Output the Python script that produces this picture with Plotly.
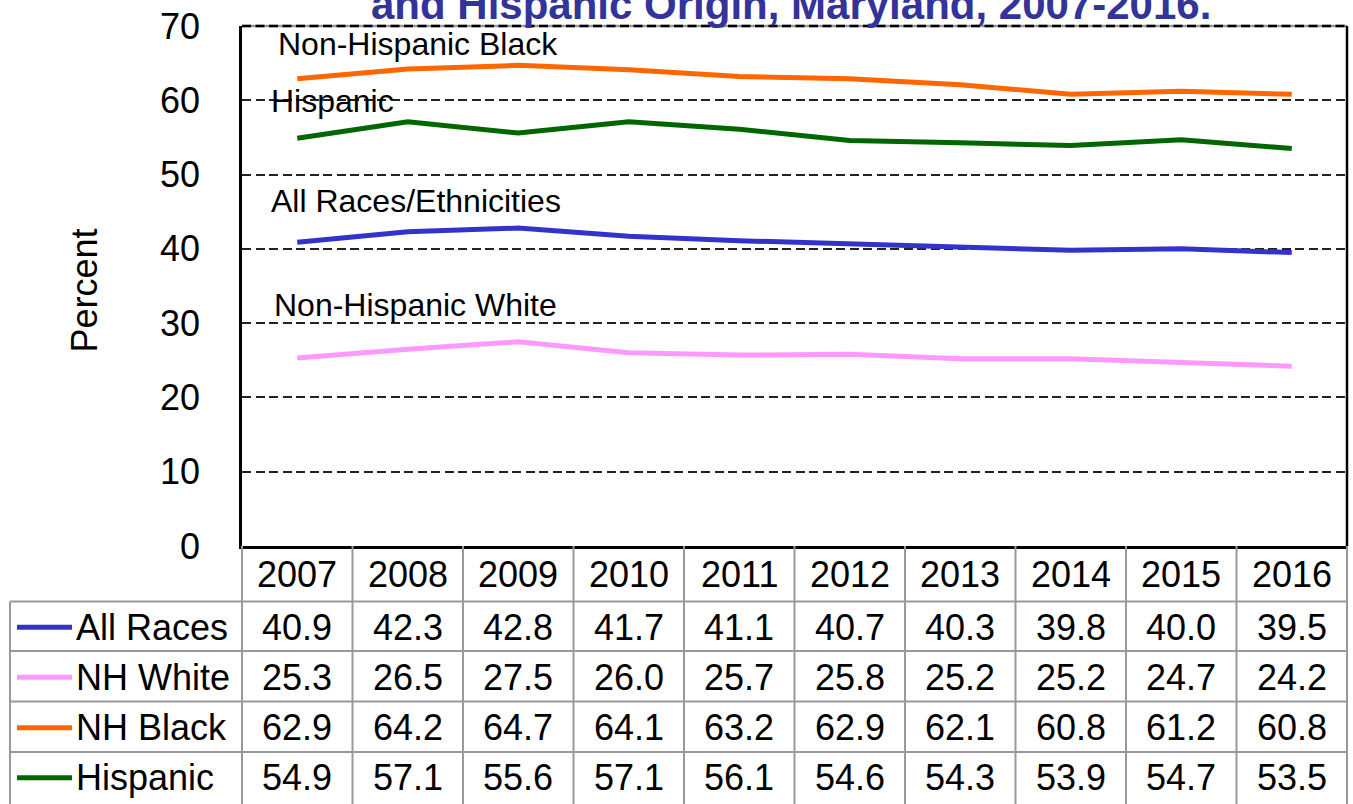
import plotly.graph_objects as go

years = [2007, 2008, 2009, 2010, 2011, 2012, 2013, 2014, 2015, 2016]
series_names = ["All Races", "NH White", "NH Black", "Hispanic"]
all_races = [40.9, 42.3, 42.8, 41.7, 41.1, 40.7, 40.3, 39.8, 40.0, 39.5]
nh_white = [25.3, 26.5, 27.5, 26.0, 25.7, 25.8, 25.2, 25.2, 24.7, 24.2]
nh_black = [62.9, 64.2, 64.7, 64.1, 63.2, 62.9, 62.1, 60.8, 61.2, 60.8]
hispanic = [54.9, 57.1, 55.6, 57.1, 56.1, 54.6, 54.3, 53.9, 54.7, 53.5]
line_labels = ["All Races/Ethnicities", "Non-Hispanic White", "Non-Hispanic Black", "Hispanic"]
label_values = [46.4, 32.4, 67.6, 59.9]
title_text = "and Hispanic Origin, Maryland, 2007-2016."

colors = ["#3333CC", "#FF99FF", "#FF6600", "#006600"]
series = [all_races, nh_white, nh_black, hispanic]
label_x = [-0.26, -0.23, -0.19, -0.26]

W, H = 1353, 804
L, R, T, B = 242, 1347, 21, 546
PW, PH = R - L, B - T
FONT = "Arial, Liberation Sans, sans-serif"
DASH = "9px,4.5px"


def px_x(px):
    return (px - L) / PW


def px_y(py):
    return (B - py) / PH


fig = go.Figure()
xs = list(range(len(years)))
for name, vals, col in zip(series_names, series, colors):
    fig.add_trace(go.Scatter(x=xs, y=vals, mode="lines", name=name,
                             line=dict(color=col, width=5), showlegend=False))

shapes = []
annotations = []

# line labels
for txt, yv, lx in zip(line_labels, label_values, label_x):
    annotations.append(dict(x=lx, y=yv, xref="x", yref="y", text=txt, showarrow=False,
                            xanchor="left", yanchor="middle",
                            font=dict(family=FONT, size=32, color="black")))

grid = "#999999"
# top frame: gray solid under black dashed
shapes.append(dict(type="line", xref="paper", yref="paper", x0=0, x1=1, y0=1, y1=1,
                   line=dict(color=grid, width=2.5), layer="below"))
shapes.append(dict(type="line", xref="paper", yref="paper", x0=0, x1=1, y0=1, y1=1,
                   line=dict(color="black", width=2.5, dash=DASH)))

# table geometry
row_edges = [546, 602, 652, 703, 754, 804]
n = len(years)
for i in range(n + 1):
    shapes.append(dict(type="line", xref="paper", yref="paper", x0=i / n, x1=i / n,
                       y0=px_y(row_edges[0]), y1=px_y(row_edges[-1] + 5),
                       line=dict(color=grid, width=2)))
label_left = 10
shapes.append(dict(type="line", xref="paper", yref="paper", x0=px_x(label_left), x1=px_x(label_left),
                   y0=px_y(row_edges[1]), y1=px_y(row_edges[-1] + 5), line=dict(color=grid, width=2)))
for ry in row_edges[1:-1]:
    shapes.append(dict(type="line", xref="paper", yref="paper", x0=px_x(label_left), x1=1,
                       y0=px_y(ry), y1=px_y(ry), line=dict(color=grid, width=2)))
# right border solid black over plot
shapes.append(dict(type="line", xref="paper", yref="paper", x0=1, x1=1, y0=0, y1=1,
                   line=dict(color="black", width=2.5)))

# header years
hc = (row_edges[0] + row_edges[1]) / 2 + 1
for i, yr in enumerate(years):
    annotations.append(dict(x=(i + 0.5) / n, y=px_y(hc), xref="paper", yref="paper", text=str(yr),
                            showarrow=False, xanchor="center", yanchor="middle",
                            font=dict(family=FONT, size=36, color="black")))
# data rows
for r, (name, vals, col) in enumerate(zip(series_names, series, colors)):
    cy = (row_edges[r + 1] + row_edges[r + 2]) / 2 + 1
    shapes.append(dict(type="line", xref="paper", yref="paper", x0=px_x(17), x1=px_x(72),
                       y0=px_y(cy), y1=px_y(cy), line=dict(color=col, width=5)))
    annotations.append(dict(x=px_x(74), y=px_y(cy), xref="paper", yref="paper", text=name,
                            showarrow=False, xanchor="left", yanchor="middle",
                            font=dict(family=FONT, size=36, color="black")))
    for i, v in enumerate(vals):
        annotations.append(dict(x=(i + 0.5) / n, y=px_y(cy), xref="paper", yref="paper",
                                text=f"{v:.1f}", showarrow=False, xanchor="center", yanchor="middle",
                                font=dict(family=FONT, size=36, color="black")))

# y-axis title
annotations.append(dict(x=px_x(84), y=px_y(288), xref="paper", yref="paper", text="Percent",
                        showarrow=False, textangle=-90, xanchor="center", yanchor="middle",
                        font=dict(family=FONT, size=36, color="black")))
# title (partially cut off at the top, as in the reference)
annotations.append(dict(x=px_x(791), y=px_y(-1), xref="paper", yref="paper", text="<b>" + title_text + "</b>",
                        showarrow=False, xanchor="center", yanchor="middle",
                        font=dict(family=FONT, size=42, color="#333399")))

fig.update_layout(
    width=W, height=H,
    margin=dict(l=L, r=W - R, t=T, b=H - B, pad=0),
    paper_bgcolor="white", plot_bgcolor="white",
    shapes=shapes, annotations=annotations,
    xaxis=dict(range=[-0.5, n - 0.5], showticklabels=False, showgrid=False, zeroline=False,
               showline=True, linecolor="black", linewidth=2.5, ticks=""),
    yaxis=dict(range=[0, 70], dtick=10, showgrid=True, gridcolor="#222222", gridwidth=1.5,
               griddash=DASH, zeroline=False, showline=True, linecolor="black", linewidth=2.5,
               ticks="", ticklabelstandoff=32,
               tickfont=dict(family=FONT, size=36, color="black")),
)

fig.write_html("out.html", config={"displayModeBar": False},
               post_script="document.body.style.margin='0';")
